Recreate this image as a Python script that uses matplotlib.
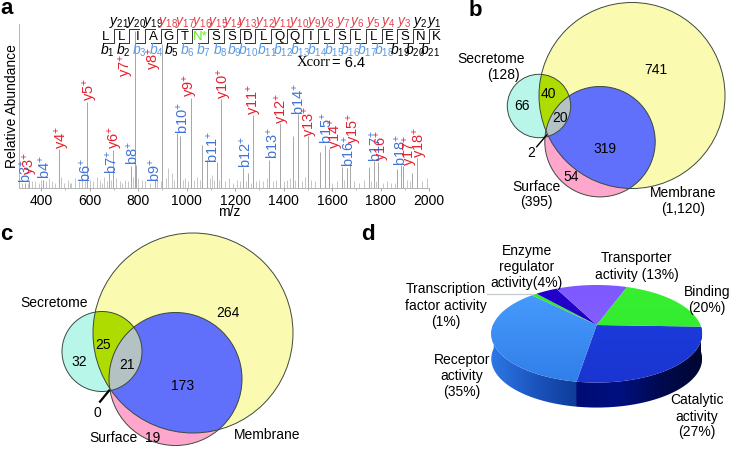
#!/usr/bin/env python3
import numpy as np
import matplotlib
matplotlib.use('Agg')
import matplotlib.pyplot as plt
from matplotlib.patches import Circle, Polygon
from matplotlib.colors import LinearSegmentedColormap

plt.rcParams['font.family'] = ['Liberation Sans', 'DejaVu Sans']
plt.rcParams['mathtext.fontset'] = 'custom'
plt.rcParams['mathtext.rm'] = 'Liberation Sans'
plt.rcParams['mathtext.it'] = 'Liberation Sans:italic'
plt.rcParams['mathtext.default'] = 'regular'

RED = '#e8202e'
BLUE = '#3f74d8'
LRED = '#e4404c'
LBLUE = '#5b9be0'

# a: spectrum
main_mz = [473, 588, 697, 786, 900, 1017, 1143, 961, 975, 1085, 1065, 1124, 1273, 1232, 1254, 1341, 1385,
           1500, 1458, 1438, 1571, 1552, 1589, 1640, 1660, 1674, 1772, 1751, 1790, 1885, 1867, 1893, 1931,
           1951, 870, 770, 790, 680, 408, 350, 333]
main_int = [24, 52.6, 23, 96, 88, 55, 54, 33.7, 32, 17, 26, 16, 44.5, 12.4, 9, 17, 39.5,
            32, 45, 32, 26, 22, 23.7, 13, 12, 15, 16.5, 13, 16, 14, 11.5, 13.5, 9.3,
            18, 5, 13.6, 14, 9, 5, 5, 3]
noise_mz = [320, 345, 362, 375, 390, 400, 420, 432, 445, 458, 482, 495, 510, 518, 525, 540, 555, 570, 580, 600,
            615, 630, 645, 652, 660, 672, 690, 710, 725, 735, 745, 758, 780, 800, 815, 830, 850, 880, 895, 915,
            925, 940, 950, 985, 995, 1005, 1030, 1045, 1055, 1095, 1105, 1115, 1135, 1160, 1175, 1190, 1210,
            1222, 1245, 1265, 1285, 1300, 1315, 1330, 1355, 1370, 1400, 1415, 1425, 1447, 1475, 1490, 1515,
            1530, 1600, 1620, 1650, 1690, 1710, 1730, 1762, 1781, 1810, 1825, 1845, 1858, 1910, 1922, 1970, 1990]
noise_int = [3, 3, 4, 4, 3, 5, 4, 6, 4, 3, 7, 3, 5, 3, 3, 6, 4, 6, 4, 5,
             4, 7, 5, 3, 7, 4, 5, 6, 4, 3, 5, 4, 7, 6, 5, 4, 3, 5, 4, 6,
             12, 9, 5, 5, 6, 4, 5, 7, 5, 6, 8, 5, 5, 4, 6, 3, 5,
             4, 4, 3, 4, 5, 4, 6, 4, 5, 4, 5, 6, 5, 4, 7, 5,
             4, 3, 4, 5, 4, 3, 5, 4, 4, 3, 4, 3, 3, 5, 4, 4, 6]
peak_labels = ['b3', 'y3', 'b4', 'y4', 'y5', 'b6', 'y6', 'b7', 'y7', 'b8', 'y8', 'b9', 'y9', 'y10', 'b10', 'b11',
               'y11', 'b12', 'b13', 'y12', 'b14', 'y13', 'b15', 'y14', 'b16', 'y15', 'b17', 'y16', 'b18', 'y17', 'y18']
peak_label_x = [26, 31, 45, 63, 91, 86, 115.7, 112, 126.7, 133, 155, 155, 190, 224, 183, 212.7,
                255, 245.7, 273, 282, 299, 310, 326.7, 336.7, 349, 354, 376, 383, 400.7, 410, 420]
peak_label_y = [171, 163, 167, 137, 89, 170, 137.7, 162, 65, 153, 58, 170, 85, 83, 118, 147,
                99, 152, 142.7, 108, 99, 121.7, 128, 133, 151, 128, 145.7, 145.7, 150, 150, 142.7]

# a: sequence
residues = list('LLIAGTNSSDLQQILSLLESNK')
residue_x = 105.7 + 15.76 * np.arange(len(residues))
y_ion_x = [119, 136, 153, 168, 185, 201.7, 218.3, 233, 247, 265, 281.7, 299, 314, 327.7, 343, 357, 373, 388, 404, 420, 434]
b_ion_x = [107.7, 123, 139.7, 156, 171, 187, 203.7, 220, 234, 248, 267, 283, 300, 317, 334, 350, 367, 384, 400, 415, 430]
black_y = [21, 20, 19, 2, 1]
black_b = [1, 2, 5, 19, 20, 21]

# b, c: venn circles (x, y, r)
venn_b = dict(memb=(632, 95.5, 93), sec=(539, 106, 31.7), surf=(600, 141.7, 55.2))
venn_c = dict(memb=(193, 333, 100), sec=(102, 351.5, 40), surf=(175.5, 379, 66.5))
venn_b_text = [('Secretome', 491, 59), ('(128)', 503, 75), ('741', 656, 70), ('40', 548, 94), ('66', 521.7, 106),
               ('20', 560, 117.7), ('319', 605, 149), ('54', 571, 176.7), ('2', 530.7, 153), ('Surface', 536.7, 186.7),
               ('(395)', 536.7, 202), ('Membrane', 683, 193), ('(1,120)', 683, 209)]
venn_c_text = [('Secretome', 54, 303), ('264', 228, 312.7), ('25', 103, 345), ('32', 79, 361.7), ('21', 126.7, 365),
               ('173', 182.7, 386), ('0', 97.7, 413), ('Surface', 113.3, 438), ('19', 153, 437.7), ('Membrane', 267, 435)]

# d: pie
pie_values = [27, 35, 1, 4, 13, 20]
pie_top = ['#1c3fe0', '#4a9fff', '#33e833', '#2400d0', '#7d58ff', '#38f030']
pie_bot = ['#1a34d0', '#2f7ce8', '#33e833', '#1a00b0', '#8a68ff', '#30e830']
pie_text = [('Enzyme', 526.7, 251), ('regulator', 526.7, 266.7), ('activity(4%)', 526.7, 282.7),
            ('Transporter', 637, 258), ('activity (13%)', 637, 275), ('Binding', 706.7, 292), ('(20%)', 706.7, 308),
            ('Transcription', 445.7, 289), ('factor activity', 445.7, 306), ('(1%)', 445.7, 322),
            ('Receptor', 462, 360), ('activity', 462, 376), ('(35%)', 462, 391.7),
            ('Catalytic', 696.7, 400), ('activity', 696.7, 416.7), ('(27%)', 696.7, 432)]

W, H = 730, 449
fig = plt.figure(figsize=(W / 100, H / 100), dpi=100)

# spectrum axes
ax = fig.add_axes([19 / W, 1 - 188 / H, 410 / W, 164 / H])
ax.vlines(noise_mz, 0, noise_int, color='#bdbdbd', lw=0.6)
ax.vlines(main_mz, 0, main_int, color='#a6a6a6', lw=0.7)
ax.set_xlim(309, 2000)
ax.set_ylim(0, 100)
ax.set_yticks([])
ax.set_xticks(np.arange(400, 2001, 200))
ax.set_xticks(np.arange(400, 2001, 100), minor=True)
ax.tick_params(axis='x', labelsize=10, length=2, width=0.6, color='#999999', pad=2)
ax.tick_params(axis='x', which='minor', length=1.5, width=0.5, color='#999999')
for s in ['top', 'right']:
    ax.spines[s].set_visible(False)
for s in ['left', 'bottom']:
    ax.spines[s].set_color('#b4b4b4')
    ax.spines[s].set_linewidth(0.7)

# overlay in pixels
ov = fig.add_axes([0, 0, 1, 1], facecolor='none')
ov.set_xlim(0, W)
ov.set_ylim(H, 0)
ov.axis('off')


def t(x, y, s, **kw):
    kw.setdefault('fontsize', 10)
    kw.setdefault('ha', 'center')
    kw.setdefault('va', 'center')
    return ov.text(x, y, s, **kw)


for s, x, y in [('a', 7, 9), ('b', 475, 10), ('c', 6, 235), ('d', 368, 235)]:
    t(x, y, s, fontsize=16, fontweight='bold')

t(12, 106, 'Relative Abundance', rotation=90)
t(229, 212, 'm/z')

for s, x, y in zip(peak_labels, peak_label_x, peak_label_y):
    t(x, y, s + '$^{+}$', rotation=90, color=RED if s[0] == 'y' else BLUE, fontsize=10.5)

# sequence with fragment brackets
for i, r in enumerate(residues):
    t(residue_x[i], 36.7, r + ('*' if r == 'N' and i == 6 else ''), fontsize=9.5,
      color='#66e622' if i == 6 else 'black')
for x in residue_x[:-1] + 15.76 / 2:
    ov.plot([x - 10, x, x, x + 10], [43.3, 43.3, 29, 29], color='#333333', lw=0.7)
for i, x in enumerate(y_ion_x):
    n = 21 - i
    t(x, 22.7, r'$\mathit{y}_{%d}$' % n, fontsize=10, color='black' if n in black_y else LRED)
for i, x in enumerate(b_ion_x):
    n = i + 1
    t(x, 50.5, r'$\mathit{b}_{%d}$' % n, fontsize=10, color='black' if n in black_b else LBLUE)
t(314, 63, 'Xcorr', family='Liberation Serif', fontsize=10.5)
t(349, 63, '= 6.4', fontsize=10.5)


def lens(c1, c2):
    # outline of the overlap of two circles
    a = np.linspace(0, 2 * np.pi, 720, endpoint=False)
    pts = []
    for p, q in [(c1, c2), (c2, c1)]:
        xy = np.c_[p[0] + p[2] * np.cos(a), p[1] + p[2] * np.sin(a)]
        pts.append(xy[np.hypot(xy[:, 0] - q[0], xy[:, 1] - q[1]) <= q[2]])
    pts = np.vstack(pts)
    m = pts.mean(axis=0)
    return pts[np.argsort(np.arctan2(pts[:, 1] - m[1], pts[:, 0] - m[0]))]


def venn(c):
    memb, sec, surf = c['memb'], c['sec'], c['surf']
    e = dict(ec='none')
    ov.add_patch(Circle(memb[:2], memb[2], fc='#fafab0', **e))
    ov.add_patch(Circle(sec[:2], sec[2], fc='#b8f6ea', **e))
    ov.add_patch(Circle(surf[:2], surf[2], fc='#ffa6cc', **e))
    ov.add_patch(Polygon(lens(sec, memb), fc='#aedc00', **e))
    ov.add_patch(Polygon(lens(surf, memb), fc='#6070fa', **e))
    p = Polygon(lens(sec, memb), fc='#b4c2c4', **e)
    ov.add_patch(p)
    p.set_clip_path(Circle(surf[:2], surf[2], transform=ov.transData))
    for k in (memb, sec, surf):
        ov.add_patch(Circle(k[:2], k[2], fc='none', ec='#3c4a3c', lw=0.7))


venn(venn_b)
venn(venn_c)
ov.plot([536.7, 546.7], [146.7, 135], color='black', lw=1.0)
ov.plot([100, 109], [401.7, 390.7], color='black', lw=1.6)
for s, x, y in venn_b_text + venn_c_text:
    t(x, y, s)

# pie, a circle seen in perspective
PX, PY, PA, PB, PK, DEPTH = 596.7, 325, 47.2, 103.7, 0.18, 25


def proj(th):
    s = np.sin(th)
    return PX + PB * np.cos(th) / (1 + PK * s), PY - PA * s / (1 + PK * s)


edges = np.deg2rad(-2 - 3.6 * np.r_[0, np.cumsum(pie_values)])
for i in range(len(pie_values)):
    th = np.linspace(edges[i], edges[i + 1], 80)
    xs, ys = proj(th)
    poly = Polygon(np.c_[np.r_[PX, xs], np.r_[PY, ys]], fc='none', ec='none')
    ov.add_patch(poly)
    cmap = LinearSegmentedColormap.from_list('s', [pie_top[i], pie_bot[i]])
    im = ov.imshow(np.linspace(0, 1, 64)[:, None], cmap=cmap, extent=[480, 710, 390, 280], aspect='auto', zorder=2)
    im.set_clip_path(poly)

# pie side wall, one gradient image per slice face
th = np.linspace(np.deg2rad(-2), np.deg2rad(-182), 240)
xs, ys = proj(th)
cut = proj(edges[1])[0]
side = np.r_[xs, xs[::-1]], np.r_[ys, ys[::-1] + DEPTH]
wall = Polygon(np.c_[side], fc='none', ec='none')
ov.add_patch(wall)
side_left = LinearSegmentedColormap.from_list('l', ['#2e78e4', '#1c55c0', '#0e3c98'])
side_right = LinearSegmentedColormap.from_list('r', ['#000c74', '#001080', '#000a50', '#000630'])
gx = np.linspace(xs.min(), xs.max(), 400)
rgb = np.where((gx <= cut)[:, None], side_left((gx - xs.min()) / (cut - xs.min())),
               side_right(np.clip((gx - cut) / (xs.max() - cut), 0, 1)))
im = ov.imshow(rgb[None, :, :], extent=[xs.min(), xs.max(), 420, 300], aspect='auto', zorder=1.5)
im.set_clip_path(wall)

ov.plot([487, 533], [294, 294], color='#c4ccd0', lw=0.9, zorder=3)
for s, x, y in pie_text:
    t(x, y, s, zorder=4)

ov.set_xlim(0, W)
ov.set_ylim(H, 0)
fig.savefig('out.png', dpi=100)
